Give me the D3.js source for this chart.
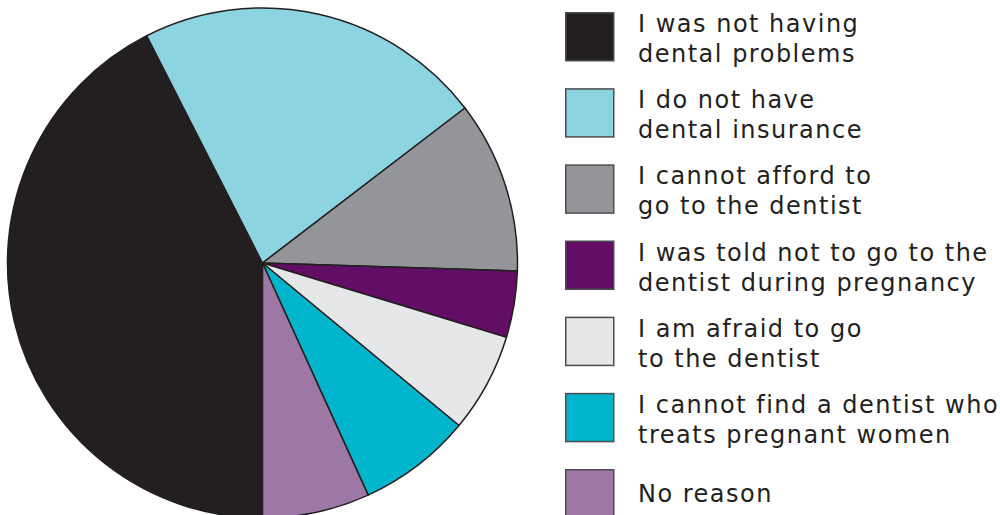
<!DOCTYPE html>
<html><head><meta charset="utf-8">
<script src="https://cdn.jsdelivr.net/npm/d3@7"></script>
<style>body{margin:0;background:#fff}svg{display:block}</style>
</head><body>
<svg id="chart" width="1000" height="515"></svg>
<script>
const categories = [
  ["I was not having", "dental problems"],
  ["I do not have", "dental insurance"],
  ["I cannot afford to", "go to the dentist"],
  ["I was told not to go to the", "dentist during pregnancy"],
  ["I am afraid to go", "to the dentist"],
  ["I cannot find a dentist who", "treats pregnant women"],
  ["No reason"]
];
const values = [42.5, 22.1, 10.9, 4.2, 6.3, 7.2, 6.8];
const colors = ["#231f20", "#8dd4e1", "#939598", "#620e66", "#e6e7e8", "#00b5cc", "#9d78a5"];

const svg = d3.select("#chart");
const cx = 262.5, cy = 263, r = 255;
const pie = d3.pie().sort(null).startAngle(Math.PI).endAngle(3 * Math.PI);
const arc = d3.arc().innerRadius(0).outerRadius(r);
const arcs = pie(values);
const g = svg.append("g").attr("transform", `translate(${cx},${cy})`);
g.selectAll("path").data(arcs).join("path")
  .attr("d", arc)
  .attr("fill", (d, i) => colors[i])
  .attr("stroke", "#231f20")
  .attr("stroke-width", 1.5)
  .attr("stroke-linejoin", "round");

const ly = d3.scaleLinear().domain([0, 6]).range([12, 469]);
const leg = svg.append("g");
const items = leg.selectAll("g").data(categories).join("g")
  .attr("transform", (d, i) => `translate(565,${ly(i)})`);
items.append("rect").attr("x", 0.75).attr("y", 0.75).attr("width", 48).attr("height", 48)
  .attr("fill", (d, i) => colors[i]).attr("stroke", "#4d4d4f").attr("stroke-width", 1.5);
items.each(function(d) {
  const t = d3.select(this).append("text")
    .attr("x", 73)
    .attr("font-family", "Verdana, 'DejaVu Sans', sans-serif")
    .attr("font-size", 24)
    .attr("letter-spacing", "1.5px")
    .attr("fill", "#231f20");
  if (d.length === 1) {
    t.append("tspan").attr("x", 73).attr("y", 33).text(d[0]);
  } else {
    t.append("tspan").attr("x", 73).attr("y", 20).text(d[0]);
    t.append("tspan").attr("x", 73).attr("y", 50).text(d[1]);
  }
});
</script>
</body></html>
